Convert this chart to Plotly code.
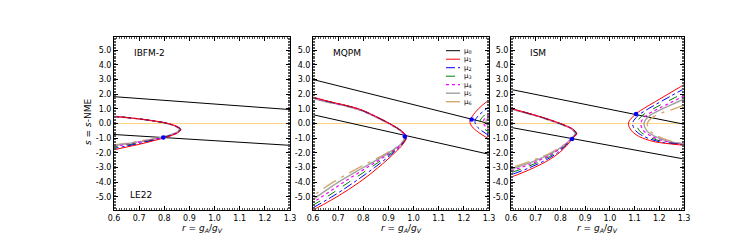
import plotly.graph_objects as go

# ---------------- data ----------------
R_RANGE = [0.6, 1.3]
S_RANGE = [-5.9, 5.9]
x_ticks = [0.6, 0.7, 0.8, 0.9, 1.0, 1.1, 1.2, 1.3]
x_ticktext = ["0.6", "0.7", "0.8", "0.9", "1.0", "1.1", "1.2", "1.3"]
y_ticks = [-5, -4, -3, -2, -1, 0, 1, 2, 3, 4, 5]
y_ticktext = ["-5.0", "-4.0", "-3.0", "-2.0", "-1.0", "0.0", "1.0", "2.0", "3.0", "4.0", "5.0"]

panel_names = ["IBFM-2", "MQPM", "ISM"]
mu_names = ["μ<sub>0</sub>", "μ<sub>1</sub>", "μ<sub>2</sub>", "μ<sub>3</sub>",
            "μ<sub>4</sub>", "μ<sub>5</sub>", "μ<sub>6</sub>"]

# black constraint lines: r endpoints and s values
line_r = [0.6, 1.3]
ibfm_line_up = [1.83, 0.95]
ibfm_line_lo = [-0.75, -1.49]
mqpm_line_up = [3.0, 0.0]
mqpm_line_lo = [0.6, -2.1]
ism_line_up = [2.32, -0.05]
ism_line_lo = [-0.27, -2.42]
zero_s = [0.0, 0.0]

# IBFM-2 curves: r as function of s (mu1..mu6)
ibfm_s = [0.6, 0.5, 0.4, 0.2, 0.0, -0.2, -0.4, -0.6, -0.8, -1.0, -1.2, -1.4, -1.6, -1.8, -2.0]
ibfm_mu1 = [0.49, 0.578, 0.655, 0.75, 0.815, 0.85, 0.866, 0.857, 0.832, 0.795, 0.752, 0.705, 0.652, 0.598, 0.545]
ibfm_mu2 = [0.49, 0.578, 0.655, 0.749, 0.814, 0.849, 0.865, 0.856, 0.829, 0.79, 0.742, 0.69, 0.632, 0.573, 0.515]
ibfm_mu3 = [0.49, 0.578, 0.654, 0.749, 0.813, 0.848, 0.864, 0.854, 0.826, 0.785, 0.733, 0.675, 0.611, 0.547, 0.484]
ibfm_mu4 = [0.49, 0.577, 0.654, 0.748, 0.812, 0.847, 0.863, 0.853, 0.824, 0.78, 0.724, 0.659, 0.59, 0.522, 0.453]
ibfm_mu5 = [0.49, 0.577, 0.653, 0.748, 0.812, 0.846, 0.861, 0.851, 0.821, 0.775, 0.714, 0.644, 0.569, 0.496, 0.422]
ibfm_mu6 = [0.49, 0.577, 0.653, 0.747, 0.811, 0.845, 0.86, 0.85, 0.818, 0.77, 0.705, 0.628, 0.548, 0.47, 0.39]

# MQPM left bundle
mqpm_s = [2.2, 1.8, 1.5, 1.0, 0.5, 0.0, -0.5, -0.9, -1.4, -2.0, -3.0, -4.0, -5.0, -6.0, -6.5]
mqpm_mu1 = [0.52, 0.60, 0.665, 0.782, 0.848, 0.905, 0.952, 0.972, 0.958, 0.925, 0.86, 0.785, 0.695, 0.59, 0.535]
mqpm_mu2 = [0.516, 0.596, 0.662, 0.78, 0.847, 0.904, 0.951, 0.971, 0.956, 0.919, 0.845, 0.764, 0.675, 0.574, 0.522]
mqpm_mu3 = [0.512, 0.592, 0.659, 0.778, 0.846, 0.903, 0.95, 0.97, 0.954, 0.913, 0.83, 0.743, 0.655, 0.558, 0.509]
mqpm_mu4 = [0.508, 0.588, 0.656, 0.776, 0.845, 0.902, 0.949, 0.968, 0.952, 0.907, 0.815, 0.722, 0.635, 0.542, 0.496]
mqpm_mu5 = [0.504, 0.584, 0.652, 0.773, 0.843, 0.901, 0.948, 0.967, 0.95, 0.901, 0.80, 0.701, 0.615, 0.526, 0.483]
mqpm_mu6 = [0.50, 0.58, 0.648, 0.77, 0.842, 0.90, 0.947, 0.965, 0.948, 0.895, 0.785, 0.68, 0.595, 0.51, 0.47]

# MQPM right bundle
mqpm2_s = [2.0, 1.5, 1.0, 0.5, 0.15, -0.2, -0.6, -1.0, -1.4]
mqpm2_mu1 = [1.335, 1.292, 1.258, 1.234, 1.224, 1.232, 1.258, 1.295, 1.34]
mqpm2_mu2 = [1.37, 1.33, 1.29, 1.256, 1.244, 1.252, 1.28, 1.32, 1.36]
mqpm2_mu3 = [1.40, 1.355, 1.31, 1.278, 1.264, 1.272, 1.30, 1.34, 1.385]
mqpm2_mu4 = [1.42, 1.375, 1.33, 1.293, 1.277, 1.286, 1.315, 1.36, 1.40]
mqpm2_mu5 = [1.44, 1.39, 1.345, 1.305, 1.288, 1.297, 1.33, 1.375, 1.42]
mqpm2_mu6 = [1.45, 1.40, 1.355, 1.315, 1.298, 1.307, 1.34, 1.385, 1.43]

# ISM left bundle
ism_s = [1.4, 1.0, 0.5, 0.0, -0.4, -0.7, -1.0, -1.5, -2.0, -2.5, -3.0, -3.5, -4.0]
ism_mu1 = [0.51, 0.605, 0.712, 0.80, 0.852, 0.866, 0.85, 0.826, 0.795, 0.752, 0.695, 0.625, 0.545]
ism_mu2 = [0.508, 0.603, 0.71, 0.799, 0.851, 0.865, 0.849, 0.823, 0.788, 0.74, 0.677, 0.60, 0.514]
ism_mu3 = [0.506, 0.602, 0.709, 0.797, 0.85, 0.864, 0.848, 0.82, 0.781, 0.728, 0.659, 0.575, 0.483]
ism_mu4 = [0.504, 0.60, 0.708, 0.796, 0.849, 0.863, 0.847, 0.817, 0.774, 0.716, 0.641, 0.55, 0.452]
ism_mu5 = [0.502, 0.599, 0.706, 0.794, 0.847, 0.861, 0.846, 0.813, 0.767, 0.703, 0.622, 0.525, 0.421]
ism_mu6 = [0.50, 0.597, 0.705, 0.793, 0.846, 0.86, 0.845, 0.81, 0.76, 0.69, 0.602, 0.50, 0.39]

# ISM right bundle
ism2_s = [3.0, 2.5, 2.0, 1.5, 1.0, 0.5, 0.0, -0.5, -0.9, -1.2, -1.3, -1.4, -1.5, -1.6]
ism2_mu1 = [1.335, 1.285, 1.235, 1.185, 1.135, 1.095, 1.075, 1.088, 1.12, 1.17, 1.20, 1.25, 1.31, 1.38]
ism2_mu2 = [1.37, 1.315, 1.26, 1.207, 1.155, 1.112, 1.092, 1.105, 1.14, 1.19, 1.22, 1.265, 1.325, 1.39]
ism2_mu3 = [1.40, 1.345, 1.29, 1.232, 1.175, 1.128, 1.108, 1.12, 1.157, 1.205, 1.235, 1.28, 1.34, 1.40]
ism2_mu4 = [1.43, 1.37, 1.313, 1.255, 1.195, 1.145, 1.125, 1.137, 1.172, 1.22, 1.25, 1.29, 1.35, 1.41]
ism2_mu5 = [1.46, 1.40, 1.34, 1.278, 1.212, 1.158, 1.138, 1.15, 1.185, 1.232, 1.26, 1.30, 1.36, 1.42]
ism2_mu6 = [1.52, 1.465, 1.405, 1.34, 1.26, 1.18, 1.152, 1.163, 1.198, 1.245, 1.272, 1.31, 1.37, 1.43]

# intersection points (blue dots)
ibfm_dot_r, ibfm_dot_s = [0.796], [-0.95]
mqpm_dot_r, mqpm_dot_s = [0.965, 1.231], [-0.88, 0.27]
ism_dot_r, ism_dot_s = [0.847, 1.106], [-1.05, 0.64]

# ---------------- styles ----------------
mu_colors = ["black", "#ff0000", "#0000ff", "#008000", "#ff00ff", "#a0a0a0", "#d2aa6e"]
mu_dash = ["solid", "solid", "dashdot", "dash", "dot", "solid", "longdashdot"]
mu_width = [1.0, 1.0, 1.0, 1.0, 1.2, 1.4, 1.4]
ORANGE = "#ffa500"
FONT = "DejaVu Sans"

# the page body adds an 8px offset; lay out in page pixels minus that offset
OFF = 8
W, H = 747 - OFF, 249 - OFF


def px_x(p):
    return (p - OFF) / W


def px_y(p):
    return 1 - (p - OFF) / H


domains_px = [(114, 290), (313, 489), (511, 684)]
y_top_px, y_bot_px = 37, 210
ydom = [px_y(y_bot_px), px_y(y_top_px)]

fig = go.Figure()

panels = [
    dict(lines=(ibfm_line_up, ibfm_line_lo),
         bundles=[(ibfm_s, [ibfm_mu1, ibfm_mu2, ibfm_mu3, ibfm_mu4, ibfm_mu5, ibfm_mu6])],
         dots=(ibfm_dot_r, ibfm_dot_s)),
    dict(lines=(mqpm_line_up, mqpm_line_lo),
         bundles=[(mqpm_s, [mqpm_mu1, mqpm_mu2, mqpm_mu3, mqpm_mu4, mqpm_mu5, mqpm_mu6]),
                  (mqpm2_s, [mqpm2_mu1, mqpm2_mu2, mqpm2_mu3, mqpm2_mu4, mqpm2_mu5, mqpm2_mu6])],
         dots=(mqpm_dot_r, mqpm_dot_s)),
    dict(lines=(ism_line_up, ism_line_lo),
         bundles=[(ism_s, [ism_mu1, ism_mu2, ism_mu3, ism_mu4, ism_mu5, ism_mu6]),
                  (ism2_s, [ism2_mu1, ism2_mu2, ism2_mu3, ism2_mu4, ism2_mu5, ism2_mu6])],
         dots=(ism_dot_r, ism_dot_s)),
]

for i, p in enumerate(panels):
    xa = "x" if i == 0 else f"x{i+1}"
    ya = "y" if i == 0 else f"y{i+1}"
    fig.add_trace(go.Scatter(x=line_r, y=zero_s, mode="lines", xaxis=xa, yaxis=ya,
                             line=dict(color=ORANGE, width=0.8), opacity=0.6,
                             showlegend=False, hoverinfo="skip"))
    for ln in p["lines"]:
        fig.add_trace(go.Scatter(x=line_r, y=ln, mode="lines", xaxis=xa, yaxis=ya,
                                 line=dict(color="black", width=1), showlegend=False, hoverinfo="skip"))
    for s_vals, series in p["bundles"]:
        for k in range(len(series) - 1, -1, -1):
            m = k + 1
            fig.add_trace(go.Scatter(x=series[k], y=s_vals, mode="lines", xaxis=xa, yaxis=ya,
                                     line=dict(color=mu_colors[m], width=mu_width[m], dash=mu_dash[m],
                                               shape="spline", smoothing=1.0),
                                     showlegend=False, hoverinfo="skip"))
    fig.add_trace(go.Scatter(x=p["dots"][0], y=p["dots"][1], mode="markers", xaxis=xa, yaxis=ya,
                             marker=dict(color="#0000ff", size=4.5), showlegend=False, hoverinfo="skip"))

axis_common = dict(showline=True, linecolor="black", linewidth=1, mirror="allticks",
                   ticks="inside", ticklen=4, tickwidth=1, tickcolor="black", showgrid=False,
                   zeroline=False, automargin=False,
                   tickfont=dict(family=FONT, size=8, color="black"))

layout = dict(width=W, height=H, margin=dict(l=0, r=0, t=0, b=0, autoexpand=False),
              paper_bgcolor="white", plot_bgcolor="white", showlegend=False,
              font=dict(family=FONT, size=8, color="black"))
for i, (x0, x1) in enumerate(domains_px):
    suffix = "" if i == 0 else str(i + 1)
    layout["xaxis" + suffix] = dict(axis_common, domain=[px_x(x0), px_x(x1)], range=R_RANGE,
                                    anchor="y" + suffix, tickvals=x_ticks, ticktext=x_ticktext,
                                    minor=dict(dtick=0.01, tick0=0.6, ticklen=2, tickwidth=0.5,
                                               ticks="inside", tickcolor="#555555"))
    layout["yaxis" + suffix] = dict(axis_common, domain=ydom, range=S_RANGE,
                                    anchor="x" + suffix, tickvals=y_ticks, ticktext=y_ticktext,
                                    minor=dict(dtick=0.1, tick0=0, ticklen=2, tickwidth=0.5,
                                               ticks="inside", tickcolor="#555555"))
fig.update_layout(**layout)

annotations = []
label_pos = [(0.104, 0.91), (0.10, 0.91), (0.097, 0.91)]
for i, name in enumerate(panel_names):
    suffix = "" if i == 0 else str(i + 1)
    annotations.append(dict(text=name, xref=f"x{suffix} domain", yref=f"y{suffix} domain",
                            x=label_pos[i][0], y=label_pos[i][1], xanchor="left", yanchor="middle",
                            showarrow=False, font=dict(family=FONT, size=9, color="black")))
    annotations.append(dict(text="<i>r</i> = <i>g<sub>A</sub></i>/<i>g<sub>V</sub></i>",
                            xref=f"x{suffix} domain", yref="paper", x=0.5, y=px_y(228),
                            xanchor="center", yanchor="middle", showarrow=False,
                            font=dict(family=FONT, size=9, color="black")))
annotations.append(dict(text="LE22", xref="x domain", yref="y domain", x=0.081, y=0.087,
                        xanchor="left", yanchor="middle", showarrow=False,
                        font=dict(family=FONT, size=9, color="black")))
annotations.append(dict(text="<i>s</i> = <i>s</i>-NME", xref="paper", yref="paper",
                        x=px_x(88), y=px_y(122), xanchor="center", yanchor="middle",
                        textangle=-90, showarrow=False,
                        font=dict(family=FONT, size=9, color="black")))

shapes = []
for m in range(7):
    ypx = 50.7 + 8.5 * m
    shapes.append(dict(type="line", xref="paper", yref="paper",
                       x0=px_x(446), x1=px_x(460), y0=px_y(ypx), y1=px_y(ypx),
                       line=dict(color=mu_colors[m], width=mu_width[m], dash=mu_dash[m])))
    annotations.append(dict(text=mu_names[m], xref="paper", yref="paper",
                            x=px_x(462), y=px_y(ypx), xanchor="left", yanchor="middle",
                            showarrow=False, font=dict(family=FONT, size=7, color="black")))

fig.update_layout(annotations=annotations, shapes=shapes)
fig.write_html("out.html")
